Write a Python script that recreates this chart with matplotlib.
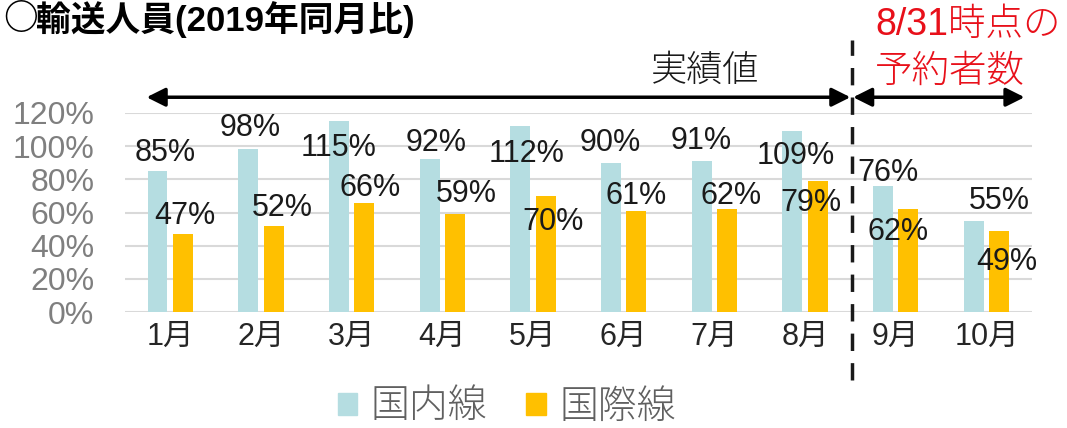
import matplotlib.pyplot as plt
from matplotlib.patches import Patch
import numpy as np

plt.rcParams['font.family'] = ['Liberation Sans', 'Noto Sans CJK JP']

months = ["1月", "2月", "3月", "4月", "5月", "6月", "7月", "8月", "9月", "10月"]
domestic = [85, 98, 115, 92, 112, 90, 91, 109, 76, 55]
international = [47, 52, 66, 59, 70, 61, 62, 79, 62, 49]

# label positions (x offset from category, y in %)
dom_lbl_dx = [-0.05, -0.12, -0.14, -0.07, -0.07, -0.15, -0.14, -0.10, -0.08, 0.14]
dom_lbl_y = [96, 111, 99, 102, 95, 102, 103, 94, 84, 67]
int_lbl_dx = [0.16, 0.24, 0.20, 0.27, 0.22, 0.14, 0.18, 0.07, 0.03, 0.23]
int_lbl_y = [58, 63, 75, 71, 54, 70, 70, 66, 48, 30]

DOM_COLOR = "#B5DDE1"
INT_COLOR = "#FFC000"

fig = plt.figure(figsize=(10.67, 4.28), dpi=100)
ax = fig.add_axes([0.117, 0.271, 0.850, 0.465])

x = np.arange(len(months))
w = 0.22
ax.bar(x - 0.14, domestic, w, color=DOM_COLOR, zorder=2)
ax.bar(x + 0.14, international, w, color=INT_COLOR, zorder=2)

for i in range(len(months)):
    ax.text(x[i] + dom_lbl_dx[i], dom_lbl_y[i], f"{domestic[i]}%", ha="center", va="center",
            fontsize=22, color="#1a1a1a", zorder=3)
    ax.text(x[i] + int_lbl_dx[i], int_lbl_y[i], f"{international[i]}%", ha="center", va="center",
            fontsize=22, color="#1a1a1a", zorder=3)

ax.set_xlim(-0.5, len(months) - 0.5)
ax.set_ylim(0, 120)
ax.set_yticks(range(0, 121, 20))
ax.set_yticklabels([f"{v}%" for v in range(0, 121, 20)], fontsize=23, color="#7f7f7f")
ax.set_xticks(x)
ax.set_xticklabels(months, fontsize=22, color="#262626")
ax.tick_params(length=0)
ax.tick_params(axis="x", pad=7)
ax.tick_params(axis="y", pad=22)
ax.grid(True, axis="y", color="#d9d9d9", linewidth=1.5, zorder=0)
for s in ax.spines.values():
    s.set_visible(False)

# arrows, divider and annotations
ax.annotate("", xy=(-0.26, 129.5), xytext=(7.50, 129.5), annotation_clip=False,
            arrowprops=dict(arrowstyle="<|-|>", color="black", lw=2.5, mutation_scale=28,
                            shrinkA=0, shrinkB=0))
ax.annotate("", xy=(7.53, 129.5), xytext=(9.42, 129.5), annotation_clip=False,
            arrowprops=dict(arrowstyle="<|-|>", color="black", lw=2.5, mutation_scale=28,
                            shrinkA=0, shrinkB=0))
ax.plot([7.52, 7.52], [-41, 164], color="#1a1a1a", lw=2.5, linestyle=(0, (5, 3.5)), clip_on=False)
ax.text(5.9, 145, "実績値", ha="center", va="center", fontsize=26, color="#1a1a1a",
        fontweight="light")

fig.text(0.820, 0.942, "8/31時点の", ha="left", va="center", fontsize=27, color="#e8101a",
         fontweight="light")
fig.text(0.820, 0.832, "予約者数", ha="left", va="center", fontsize=27, color="#e8101a",
         fontweight="light")

fig.text(0.003, 0.998, "○", ha="left", va="top", fontsize=25, fontweight="bold",
         family="Noto Sans CJK JP", color="black")
fig.text(0.034, 0.998, "輸送人員(2019年同月比)", ha="left", va="top", fontsize=25,
         fontweight="bold", color="black")

handles = [Patch(color=DOM_COLOR, label="国内線"), Patch(color=INT_COLOR, label="国際線")]
leg = fig.legend(handles=handles, loc="center", bbox_to_anchor=(0.475, 0.048), ncol=2,
                 frameon=False, handlelength=0.5, handleheight=0.5,
                 handletextpad=0.35, columnspacing=1.0,
                 prop=dict(size=28, weight="light"))
for t in leg.get_texts():
    t.set_color("#606060")

fig.savefig("out.png", dpi=100)
